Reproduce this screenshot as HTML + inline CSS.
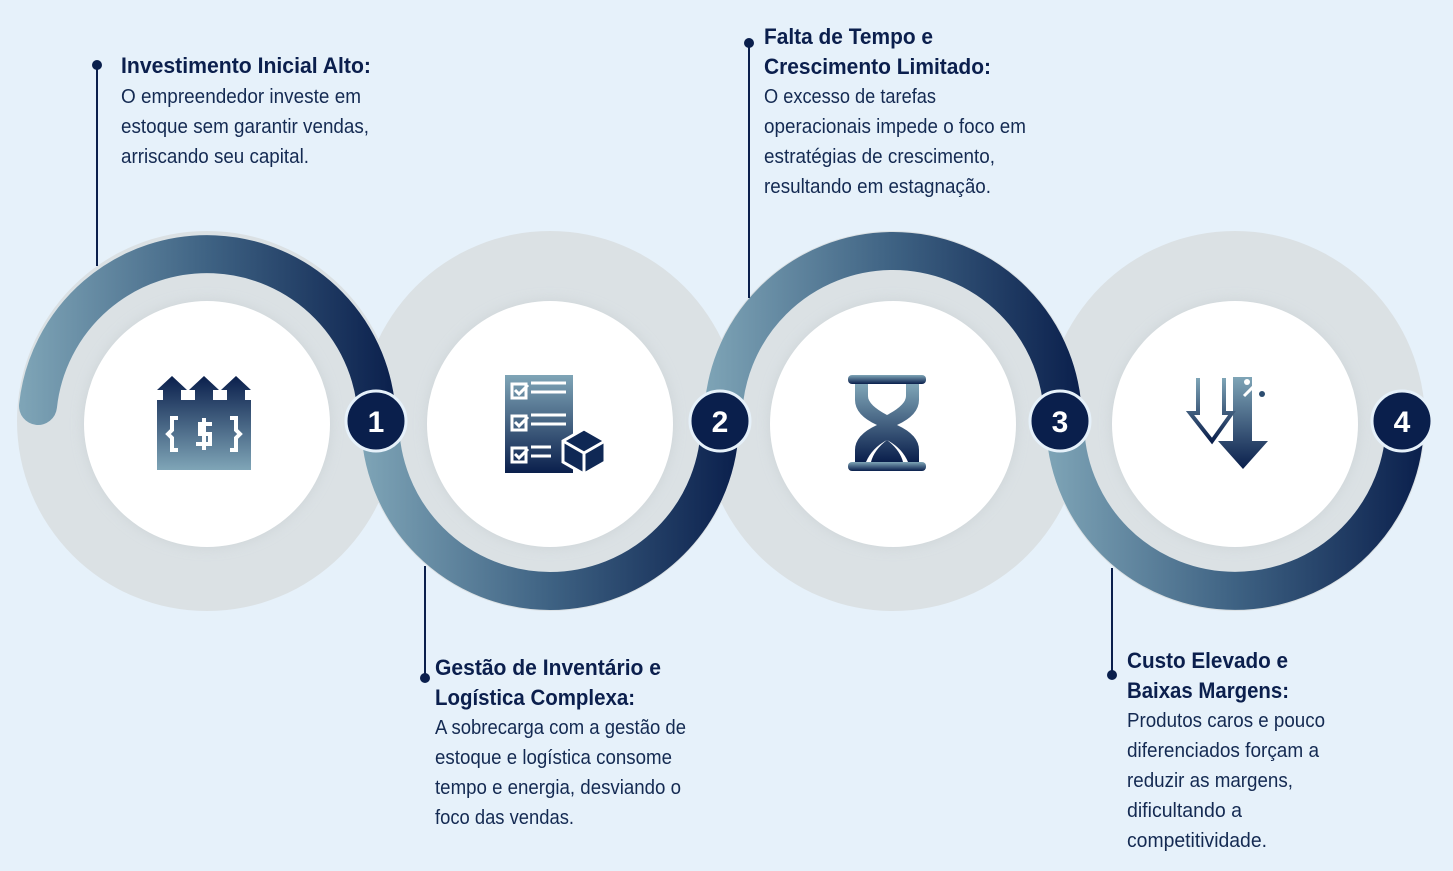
<!DOCTYPE html>
<html><head><meta charset="utf-8"><style>
html,body{margin:0;padding:0;background:#e6f1fa;}
svg{display:block;}
.t{font-family:"Liberation Sans",sans-serif;font-weight:bold;font-size:22px;fill:#0b1f4d;}
.b{font-family:"Liberation Sans",sans-serif;font-size:20px;fill:#142a52;}
.n{font-family:"Liberation Sans",sans-serif;font-weight:bold;font-size:30px;fill:#fff;}
</style></head><body>
<svg width="1453" height="871" viewBox="0 0 1453 871" xmlns="http://www.w3.org/2000/svg">
<defs>
<linearGradient id="g1" gradientUnits="userSpaceOnUse" x1="20" y1="0" x2="397" y2="0"><stop offset="0" stop-color="#7fa5b7"/><stop offset="0.5" stop-color="#3e6283"/><stop offset="1" stop-color="#0a1f4c"/></linearGradient>
<linearGradient id="g2" gradientUnits="userSpaceOnUse" x1="360" y1="0" x2="740" y2="0"><stop offset="0" stop-color="#7fa5b7"/><stop offset="0.5" stop-color="#3e6283"/><stop offset="1" stop-color="#0a1f4c"/></linearGradient>
<linearGradient id="g3" gradientUnits="userSpaceOnUse" x1="703" y1="0" x2="1083" y2="0"><stop offset="0" stop-color="#7fa5b7"/><stop offset="0.5" stop-color="#3e6283"/><stop offset="1" stop-color="#0a1f4c"/></linearGradient>
<linearGradient id="g4" gradientUnits="userSpaceOnUse" x1="1045" y1="0" x2="1425" y2="0"><stop offset="0" stop-color="#7fa5b7"/><stop offset="0.5" stop-color="#3e6283"/><stop offset="1" stop-color="#0a1f4c"/></linearGradient>
<linearGradient id="iv" x1="0" y1="0" x2="0" y2="1"><stop offset="0" stop-color="#7fa5b7"/><stop offset="1" stop-color="#0a1f4c"/></linearGradient>
<linearGradient id="iv2" x1="0" y1="0" x2="0" y2="1"><stop offset="0" stop-color="#0a1f4c"/><stop offset="1" stop-color="#7fa5b7"/></linearGradient>
<filter id="sh" x="-20%" y="-20%" width="140%" height="140%"><feGaussianBlur stdDeviation="6"/></filter>
</defs>

<!-- gray circles -->
<g fill="#dbe1e4">
<circle cx="207" cy="421" r="190"/>
<circle cx="550" cy="421" r="190"/>
<circle cx="893" cy="421" r="190"/>
<circle cx="1235" cy="421" r="190"/>
</g>
<!-- arcs -->
<g fill="none" stroke-width="38">
<path d="M38 406 A170 170 0 0 1 377 421" stroke="url(#g1)" stroke-linecap="round"/>
<path d="M380 421 A170 170 0 0 0 720 421" stroke="url(#g2)"/>
<path d="M723 421 A170 170 0 0 1 1063 421" stroke="url(#g3)"/>
<path d="M1065 421 A170 170 0 0 0 1405 421" stroke="url(#g4)"/>
</g>
<!-- white circles -->
<g fill="#c9d0d4" filter="url(#sh)" opacity="0.7">
<circle cx="207" cy="424" r="124"/><circle cx="550" cy="424" r="124"/><circle cx="893" cy="424" r="124"/><circle cx="1235" cy="424" r="124"/>
</g>
<g fill="#fff">
<circle cx="207" cy="424" r="123"/><circle cx="550" cy="424" r="123"/><circle cx="893" cy="424" r="123"/><circle cx="1235" cy="424" r="123"/>
</g>

<!-- badges -->
<g stroke="#e6f1fa" stroke-width="3" fill="#0a1f4c">
<circle cx="376" cy="421" r="30"/><circle cx="720" cy="421" r="30"/><circle cx="1060" cy="421" r="30"/><circle cx="1402" cy="421" r="30"/>
</g>
<text class="n" x="376" y="432" text-anchor="middle">1</text>
<text class="n" x="720" y="432" text-anchor="middle">2</text>
<text class="n" x="1060" y="432" text-anchor="middle">3</text>
<text class="n" x="1402" y="432" text-anchor="middle">4</text>

<!-- icon 1 -->
<g fill="url(#iv2)">
<path d="M157 470 V400 H163 V390 H157 L172 376 L187 390 H181 V400 H195 V390 H189 L204 376 L219 390 H213 V400 H227 V390 H221 L236 376 L251 390 H245 V400 H251 V470 Z"/>
</g>
<g fill="none" stroke="#fff" stroke-width="4">
<path d="M178 418 H172 V430 L168 434 L172 438 V450 H178"/>
<path d="M230 418 H236 V430 L240 434 L236 438 V450 H230"/>
<path d="M212 424 H200 V434 H210 V444 H196"/>
<path d="M204 418 V450"/>
</g>
<!-- icon 2 -->
<g>
<rect x="505" y="375" width="68" height="98" fill="url(#iv)"/>
<g fill="none" stroke="#fff" stroke-width="3">
<rect x="512" y="384" width="14" height="14"/><rect x="512" y="416" width="14" height="14"/><rect x="512" y="448" width="14" height="14"/>
<path d="M515 390 l4 4 l9 -9 M515 422 l4 4 l9 -9 M515 454 l4 4 l9 -9"/>
<path d="M531 383 H566 M531 392 H566 M531 415 H566 M531 424 H566 M531 447 H551 M531 456 H551"/>
</g>
<path d="M584 429 L605 441 V462 L584 474 L563 462 V441 Z" fill="#0f2855" stroke="#fff" stroke-width="3"/>
<path d="M563 441 L584 453 L605 441 M584 453 V474" fill="none" stroke="#fff" stroke-width="3"/>
</g>
<!-- icon 3 hourglass -->
<g fill="url(#iv)">
<rect x="848" y="375" width="78" height="9" rx="4"/>
<rect x="848" y="462" width="78" height="9" rx="4"/>
<path d="M855 384 H919 V400 Q919 415 897 425 Q919 435 919 450 V462 H855 V450 Q855 435 877 425 Q855 415 855 400 Z"/>
</g>
<path d="M868 384 H906 V396 Q906 405 887 415 Q868 405 868 396 Z" fill="#fff"/>
<path d="M872 462 Q875 445 887 438 Q899 445 902 462 Z" fill="#fff" opacity="0"/>
<path d="M866 462 Q872 448 887 440 Q874 450 871 462 Z M908 462 Q902 448 887 440 Q900 450 903 462 Z" fill="#fff"/>
<!-- icon 4 arrows -->
<g fill="url(#iv)">
<path d="M1233 377 H1252 V441 H1268 L1243 469 L1218 441 H1233 Z"/>
</g>
<path d="M1198 378 V413 H1190 L1212 441 L1232 413 H1224 V378" fill="none" stroke="url(#iv)" stroke-width="4"/>
<g stroke="#fff" stroke-width="3"><path d="M1244 396 L1262 378"/></g>
<circle cx="1247" cy="382" r="3" fill="#fff"/><circle cx="1262" cy="394" r="3" fill="#2c4d70"/>

<!-- connectors -->
<g stroke="#0a1f4c" stroke-width="2">
<line x1="97" y1="65" x2="97" y2="266"/>
<line x1="425" y1="566" x2="425" y2="678"/>
<line x1="749" y1="43" x2="749" y2="298"/>
<line x1="1112" y1="568" x2="1112" y2="675"/>
</g>
<g fill="#0a1f4c">
<circle cx="97" cy="65" r="5"/><circle cx="425" cy="678" r="5"/><circle cx="749" cy="43" r="5"/><circle cx="1112" cy="675" r="5"/>
</g>

<!-- text 1 -->
<text class="t" x="121" y="73" textLength="250" lengthAdjust="spacingAndGlyphs">Investimento Inicial Alto:</text>
<text class="b" x="121" y="103" textLength="240" lengthAdjust="spacingAndGlyphs">O empreendedor investe em</text>
<text class="b" x="121" y="133" textLength="248" lengthAdjust="spacingAndGlyphs">estoque sem garantir vendas,</text>
<text class="b" x="121" y="163" textLength="188" lengthAdjust="spacingAndGlyphs">arriscando seu capital.</text>
<!-- text 3 -->
<text class="t" x="764" y="44" textLength="169" lengthAdjust="spacingAndGlyphs">Falta de Tempo e</text>
<text class="t" x="764" y="74" textLength="227" lengthAdjust="spacingAndGlyphs">Crescimento Limitado:</text>
<text class="b" x="764" y="103" textLength="172" lengthAdjust="spacingAndGlyphs">O excesso de tarefas</text>
<text class="b" x="764" y="133" textLength="262" lengthAdjust="spacingAndGlyphs">operacionais impede o foco em</text>
<text class="b" x="764" y="163" textLength="231" lengthAdjust="spacingAndGlyphs">estratégias de crescimento,</text>
<text class="b" x="764" y="193" textLength="227" lengthAdjust="spacingAndGlyphs">resultando em estagnação.</text>
<!-- text 2 -->
<text class="t" x="435" y="675" textLength="226" lengthAdjust="spacingAndGlyphs">Gestão de Inventário e</text>
<text class="t" x="435" y="705" textLength="200" lengthAdjust="spacingAndGlyphs">Logística Complexa:</text>
<text class="b" x="435" y="734" textLength="251" lengthAdjust="spacingAndGlyphs">A sobrecarga com a gestão de</text>
<text class="b" x="435" y="764" textLength="237" lengthAdjust="spacingAndGlyphs">estoque e logística consome</text>
<text class="b" x="435" y="794" textLength="246" lengthAdjust="spacingAndGlyphs">tempo e energia, desviando o</text>
<text class="b" x="435" y="824" textLength="139" lengthAdjust="spacingAndGlyphs">foco das vendas.</text>
<!-- text 4 -->
<text class="t" x="1127" y="668" textLength="161" lengthAdjust="spacingAndGlyphs">Custo Elevado e</text>
<text class="t" x="1127" y="698" textLength="162" lengthAdjust="spacingAndGlyphs">Baixas Margens:</text>
<text class="b" x="1127" y="727" textLength="198" lengthAdjust="spacingAndGlyphs">Produtos caros e pouco</text>
<text class="b" x="1127" y="757" textLength="192" lengthAdjust="spacingAndGlyphs">diferenciados forçam a</text>
<text class="b" x="1127" y="787" textLength="166" lengthAdjust="spacingAndGlyphs">reduzir as margens,</text>
<text class="b" x="1127" y="817" textLength="115" lengthAdjust="spacingAndGlyphs">dificultando a</text>
<text class="b" x="1127" y="847" textLength="140" lengthAdjust="spacingAndGlyphs">competitividade.</text>
</svg>
</body></html>
